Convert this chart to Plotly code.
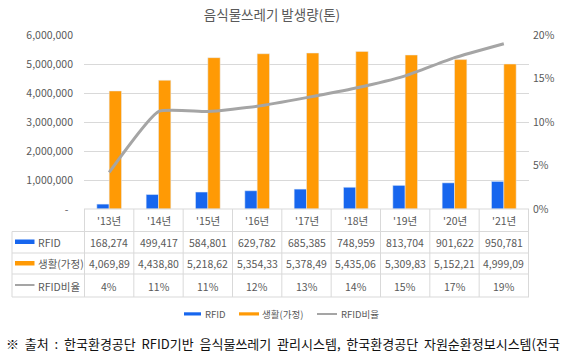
import plotly.graph_objects as go

# ---- data ----
years = ["'13년", "'14년", "'15년", "'16년", "'17년", "'18년", "'19년", "'20년", "'21년"]
rfid = [168274, 499417, 584801, 629782, 685385, 748959, 813704, 901622, 950781]
living = [4069890, 4438800, 5218620, 5354330, 5378490, 5435060, 5309830, 5152210, 4999090]
ratio = [0.042, 0.112, 0.112, 0.118, 0.128, 0.139, 0.153, 0.174, 0.190]
ratio_labels = ["4%", "11%", "11%", "12%", "13%", "14%", "15%", "17%", "19%"]
left_ticks = [0, 1000000, 2000000, 3000000, 4000000, 5000000, 6000000]
left_tick_text = ["-  ", "1,000,000", "2,000,000", "3,000,000", "4,000,000", "5,000,000", "6,000,000"]
right_ticks = [0, 0.05, 0.10, 0.15, 0.20]
right_tick_text = ["0%", "5%", "10%", "15%", "20%"]
series_names = ["RFID", "생활(가정)", "RFID비율"]

# ---- layout geometry (pixels) ----
W, H = 570, 363
L, R, T, B = 84, 41, 35, 154
PW, PH = W - L - R, H - T - B

def px(x):
    return (x - L) / PW

def py(y):
    return (H - B - y) / PH

BLUE = "#1766ee"
ORANGE = "#ff9a05"
GRAY = "#a5a5a5"
TXT = "#595959"
GRID = "#d9d9d9"
FONT = "Noto Sans CJK KR"

fig = go.Figure()
fig.add_trace(go.Bar(x=years, y=rfid, name=series_names[0], marker_color=BLUE, yaxis="y"))
fig.add_trace(go.Bar(x=years, y=living, name=series_names[1], marker_color=ORANGE, yaxis="y"))
fig.add_trace(go.Scatter(x=years, y=ratio, name=series_names[2], mode="lines",
                         line=dict(color=GRAY, width=3, shape="spline", smoothing=0.45),
                         yaxis="y2"))

shapes = []
annotations = []
lc = dict(color=GRID, width=1)

def note(x, y, text, xref="paper", xanchor="center", size=10.5, color=TXT):
    annotations.append(dict(x=x, y=y, xref=xref, yref="paper", text=text, showarrow=False,
                            xanchor=xanchor, yanchor="middle",
                            font=dict(size=size, color=color, family=FONT)))

# table horizontal lines
shapes.append(dict(type="line", xref="paper", yref="paper", x0=0, x1=1, y0=0, y1=0, line=lc))
for yy in [231.5, 253, 274, 297]:
    shapes.append(dict(type="line", xref="paper", yref="paper", x0=px(12), x1=1, y0=py(yy), y1=py(yy), line=lc))
# vertical lines
shapes.append(dict(type="line", xref="paper", yref="paper", x0=px(12), x1=px(12), y0=py(231.5), y1=py(297), line=lc))
for i in range(len(years) + 1):
    shapes.append(dict(type="line", xref="x", yref="paper", x0=i - 0.5, x1=i - 0.5, y0=0, y1=py(297), line=lc))

# table contents
row_y = [py(242), py(263.5), py(286)]
for i, yr in enumerate(years):
    note(yr, py(220.5), yr, xref="x")
    note(yr, row_y[0], f"{rfid[i]:,}", xref="x")
    note(yr, row_y[1], f"{living[i]:,}"[:-1], xref="x")
    note(yr, row_y[2], ratio_labels[i], xref="x")

# first column: swatches + names
shapes.append(dict(type="rect", xref="paper", yref="paper", x0=px(15), x1=px(34.5), y0=py(239.5), y1=py(244),
                   fillcolor=BLUE, line=dict(width=0)))
shapes.append(dict(type="rect", xref="paper", yref="paper", x0=px(15), x1=px(34.5), y0=py(261), y1=py(265.5),
                   fillcolor=ORANGE, line=dict(width=0)))
shapes.append(dict(type="line", xref="paper", yref="paper", x0=px(15), x1=px(34.5), y0=py(285), y1=py(285),
                   line=dict(color=GRAY, width=2)))
for name, yy in zip(series_names, row_y):
    note(px(35.5), yy, name, xanchor="left")

# bottom legend
ly = py(314)
shapes.append(dict(type="rect", xref="paper", yref="paper", x0=px(184), x1=px(201), y0=py(312.3), y1=py(315.5),
                   fillcolor=BLUE, line=dict(width=0)))
shapes.append(dict(type="rect", xref="paper", yref="paper", x0=px(239), x1=px(259), y0=py(312.3), y1=py(315.5),
                   fillcolor=ORANGE, line=dict(width=0)))
shapes.append(dict(type="line", xref="paper", yref="paper", x0=px(317), x1=px(337), y0=ly, y1=ly,
                   line=dict(color=GRAY, width=2)))
for name, xx in zip(series_names, [203, 260, 339]):
    note(px(xx), ly, name, xanchor="left", size=9.5)

# footnote
note(px(4), py(343), "※  출처  :  한국환경공단  RFID기반  음식물쓰레기  관리시스템,  한국환경공단  자원순환정보시스템(전국",
     xanchor="left", size=13, color="#111111")

fig.update_layout(
    width=W, height=H,
    margin=dict(l=L, r=R, t=T, b=B, pad=0),
    paper_bgcolor="white", plot_bgcolor="white",
    font=dict(family=FONT, color=TXT, size=10.5),
    title=dict(text="음식물쓰레기 발생량(톤)", x=272 / W, xref="container", xanchor="center",
               y=1 - 15 / H, yref="container", yanchor="middle",
               font=dict(size=13.5, color=TXT, family=FONT)),
    barmode="group", bargap=0.5, bargroupgap=0,
    showlegend=False,
    xaxis=dict(showticklabels=False, showgrid=False, zeroline=False, showline=False, ticks=""),
    yaxis=dict(range=[0, 6000000], tickvals=left_ticks, ticktext=left_tick_text,
               showgrid=True, gridcolor=GRID, gridwidth=1, zeroline=False, showline=False,
               ticks="", ticklabelstandoff=10, tickfont=dict(size=10.5, color=TXT)),
    yaxis2=dict(range=[0, 0.2], tickvals=right_ticks, ticktext=right_tick_text, overlaying="y",
                side="right", showgrid=False, zeroline=False, showline=False, ticks="",
                ticklabelstandoff=3, tickfont=dict(size=10.5, color=TXT)),
    shapes=shapes,
    annotations=annotations,
)

fig.write_html("out.html", config={"displayModeBar": False},
               post_script="document.body.style.margin='0';document.body.style.overflow='hidden';")
